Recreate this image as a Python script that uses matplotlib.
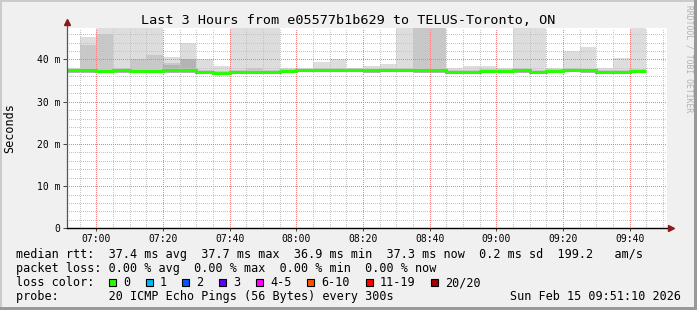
import numpy as np
import pandas as pd
import matplotlib
matplotlib.use("Agg")
import matplotlib.pyplot as plt
import matplotlib.dates as mdates
from matplotlib.ticker import MultipleLocator, FuncFormatter
from matplotlib.patches import Rectangle

plt.rcParams['font.family'] = ['DejaVu Sans Mono', 'DejaVu Sans']

# smokeping style graph, 5 minute steps over the last 3 hours
step_start = pd.date_range("2026-02-15 06:50", periods=35, freq="5min")
t_start = pd.Timestamp("2026-02-15 06:51:10")
t_end = pd.Timestamp("2026-02-15 09:51:10")

# median rtt per step (ms)
median = [37.4, 37.4, 37.3, 37.4, 37.3, 37.3, 37.5, 37.4, 37.1, 36.9,
          37.1, 37.1, 37.1, 37.3, 37.6, 37.6, 37.5, 37.5, 37.4, 37.5,
          37.6, 37.6, 37.5, 37.1, 37.1, 37.3, 37.3, 37.6, 37.1, 37.3,
          37.6, 37.4, 37.1, 37.1, 37.3]
# smoke: lowest ping, highest ping, upper end of middle band, upper end of dark band
smoke_lo = [36.8, 36.9, 36.9, 36.9, 36.8, 36.8, 36.9, 36.9, 36.7, 36.5,
            36.7, 36.7, 36.7, 36.9, 37.0, 37.0, 37.0, 37.0, 36.9, 37.0,
            37.0, 36.9, 36.9, 36.6, 36.6, 36.9, 36.9, 36.9, 36.6, 36.9,
            37.0, 36.9, 36.6, 36.7, 36.8]
smoke_hi = [38.1, 45.3, 48.0, 48.0, 48.0, 48.0, 40.5, 43.9, 40.1, 38.4,
            48.0, 48.0, 48.0, 38.0, 38.0, 39.4, 40.1, 38.1, 38.5, 38.9,
            48.0, 48.0, 48.0, 38.1, 38.5, 38.5, 38.1, 48.0, 48.0, 38.0,
            41.9, 43.0, 38.0, 40.4, 48.0]
smoke_mid = [37.8, 43.4, 46.0, 37.9, 40.1, 41.1, 39.25, 40.0, 37.6, 37.3,
             37.6, 38.0, 37.6, 37.7, 37.8, 37.9, 37.9, 37.9, 37.8, 37.9,
             37.9, 48.0, 48.0, 37.5, 37.5, 37.7, 37.7, 37.9, 37.6, 37.7,
             38.0, 37.8, 37.5, 37.5, 37.7]
smoke_dark = [37.6, 37.6, 37.5, 37.6, 37.5, 37.5, 38.8, 40.0, 37.3, 37.0,
              37.3, 37.3, 37.3, 37.5, 37.7, 37.7, 37.7, 37.7, 37.6, 37.7,
              37.7, 37.7, 37.7, 37.3, 37.3, 37.5, 37.5, 37.7, 37.3, 37.5,
              37.7, 37.6, 37.3, 37.3, 37.5]

loss_labels = ['0', '1', '2', '3', '4-5', '6-10', '11-19', '20/20']
loss_colors = ['#26ff00', '#00b8ff', '#0059ff', '#5e00ff', '#ff00ff', '#ff5500', '#ff0000', '#a00000']

title = "Last 3 Hours from e05577b1b629 to TELUS-Toronto, ON"
rtt_line = "median rtt:  37.4 ms avg  37.7 ms max  36.9 ms min  37.3 ms now  0.2 ms sd  199.2   am/s"
loss_line = "packet loss: 0.00 % avg  0.00 % max  0.00 % min  0.00 % now"
probe_line = "probe:       20 ICMP Echo Pings (56 Bytes) every 300s"
stamp = "Sun Feb 15 09:51:10 2026"

W, H = 697, 310
def fx(px):
    return px / W
def fy(py):
    return 1 - py / H

fig = plt.figure(figsize=(W/100, H/100), dpi=100)
fig.patch.set_facecolor('#f0f0f0')
ax = fig.add_axes([fx(67), fy(228.3), 600/W, 200.3/H])
ax.set_facecolor('white')

x = mdates.date2num(step_start.to_pydatetime())
w = 5/1440
lo = np.array(smoke_lo)
ax.bar(x, np.array(smoke_hi)-lo, bottom=lo, width=w, align='edge', color='#dddddd', lw=0, zorder=1)
ax.bar(x, np.array(smoke_mid)-lo, bottom=lo, width=w, align='edge', color='#c8c8c8', lw=0, zorder=1.1)
ax.bar(x, np.array(smoke_dark)-lo, bottom=lo, width=w, align='edge', color='#b4b4b4', lw=0, zorder=1.2)
edges = np.append(x, x[-1]+w)
ax.stairs(median, edges, baseline=None, color='#26ff00', lw=2.2, zorder=3)

ax.set_xlim(mdates.date2num(t_start.to_pydatetime()), mdates.date2num(t_end.to_pydatetime()))
ax.set_ylim(0, 47.46)

ax.xaxis.set_major_locator(mdates.MinuteLocator(byminute=[0, 20, 40]))
ax.xaxis.set_minor_locator(mdates.MinuteLocator(byminute=range(0, 60, 5)))
ax.xaxis.set_major_formatter(mdates.DateFormatter('%H:%M'))
ax.yaxis.set_major_locator(MultipleLocator(10))
ax.yaxis.set_minor_locator(MultipleLocator(2))
ax.yaxis.set_major_formatter(FuncFormatter(lambda v, p: "0" if v == 0 else "%d m" % v))

# short dashes with gaps, pixel sized (1px on / 1px off look)
dots = (0, (0.417, 1.583))
ax.set_axisbelow(False)
ax.grid(True, which='minor', color='#c4c4c4', linestyle=dots, linewidth=0.72)
ax.grid(True, which='major', color='#f08080', linestyle=dots, linewidth=0.72)
ax.tick_params(axis='x', which='major', length=2, width=0.7, color='#444444', labelsize=7, pad=2)
ax.tick_params(axis='y', which='major', length=3, width=0.7, color='#444444', labelsize=7, pad=2)
ax.tick_params(which='minor', length=0)
for s in ax.spines.values():
    s.set_visible(False)

fig.canvas.draw()
for gl in (ax.xaxis.get_gridlines() + ax.yaxis.get_gridlines()
           + [t.gridline for t in ax.xaxis.get_minor_ticks()]
           + [t.gridline for t in ax.yaxis.get_minor_ticks()]):
    gl.set_antialiased(False)

# axis lines with arrows
ax.plot([0, 0], [0, 1.025], transform=ax.transAxes, color='#555555', lw=0.9, clip_on=False, zorder=4)
ax.plot([0, 1.003], [0, 0], transform=ax.transAxes, color='black', lw=1.0, clip_on=False, zorder=4)
ax.plot([0], [1.028], marker='^', ms=5, color='#8b1a1a', transform=ax.transAxes, clip_on=False, zorder=5)
ax.plot([1.0068], [0], marker='>', ms=5, color='#8b1a1a', transform=ax.transAxes, clip_on=False, zorder=5)

fig.text(fx(10), fy(128), "Seconds", rotation=90, ha='center', va='center', fontsize=8.5)
fig.text(fx(348), fy(24), title, ha='center', va='baseline', fontsize=9.7)
fig.text(fx(689), fy(5), "RRDTOOL / TOBI OETIKER", rotation=270, ha='center', va='top',
         fontsize=5.8, color='#b0b0b0')

fig.text(fx(16), fy(258), rtt_line, ha='left', va='baseline', fontsize=8.5)
fig.text(fx(16), fy(272), loss_line, ha='left', va='baseline', fontsize=8.5)
fig.text(fx(16), fy(286), "loss color:", ha='left', va='baseline', fontsize=8.5)
fig.text(fx(16), fy(300), probe_line, ha='left', va='baseline', fontsize=8.5)
fig.text(fx(681), fy(300), stamp, ha='right', va='baseline', fontsize=8.5)

box_x = [109, 146, 182, 219, 256, 307, 366, 431]
for bx, lab, col in zip(box_x, loss_labels, loss_colors):
    fig.add_artist(Rectangle((fx(bx), fy(285.5)), 7/W, 7/H, transform=fig.transFigure,
                             facecolor=col, edgecolor='black', lw=0.8))
    fig.text(fx(bx+14), fy(286), lab, ha='left', va='baseline', fontsize=8.5)

# 3d-ish frame
fig.add_artist(Rectangle((0, fy(2)), 1, 2/H, transform=fig.transFigure, color='#cbcbcb', lw=0))
fig.add_artist(Rectangle((0, 0), 2/W, 1, transform=fig.transFigure, color='#cbcbcb', lw=0))
fig.add_artist(Rectangle((0, 0), 1, 3/H, transform=fig.transFigure, color='#999999', lw=0))
fig.add_artist(Rectangle((1-3/W, 0), 3/W, 1, transform=fig.transFigure, color='#999999', lw=0))

fig.savefig('out.png', dpi=100, facecolor=fig.get_facecolor())
